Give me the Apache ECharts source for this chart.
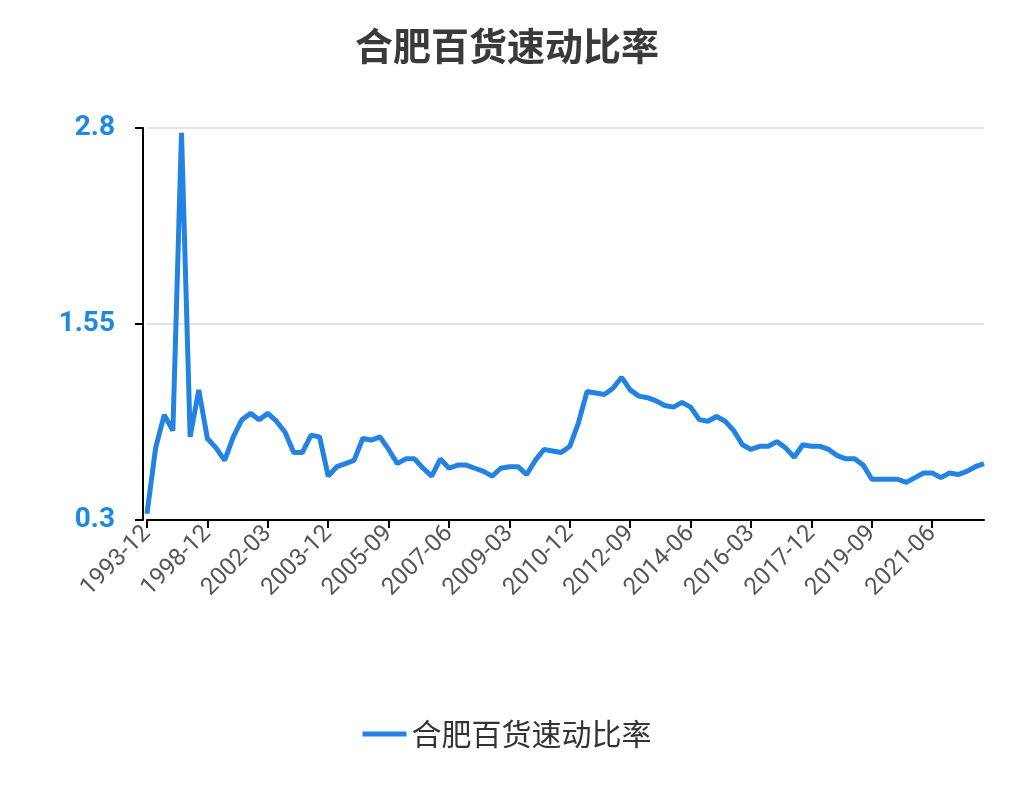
<!DOCTYPE html>
<html>
<head>
<meta charset="utf-8">
<script src="https://cdn.jsdelivr.net/npm/echarts@6/dist/echarts.min.js"></script>
<style>html,body{margin:0;padding:0;background:#fff}#chart{width:1014px;height:810px}</style>
</head>
<body>
<div id="chart"></div>
<script>
var seriesName = '合肥百货速动比率';
var earlyDates = ['1993-12', '1994-12', '1995-12', '1996-06', '1996-12', '1997-06', '1997-12',
  '1998-12', '1999-06', '1999-12', '2000-06', '2000-12', '2001-06', '2001-12'];
var quickRatio = [
  0.34, 0.76, 0.97, 0.87, 2.77, 0.83, 1.13, 0.82, 0.76, 0.68,
  0.83, 0.94, 0.98, 0.94, 0.98, 0.93, 0.86, 0.73, 0.73, 0.84,
  0.83, 0.58, 0.64, 0.66, 0.68, 0.82, 0.81, 0.83, 0.75, 0.66,
  0.69, 0.69, 0.63, 0.58, 0.69, 0.63, 0.65, 0.65, 0.63, 0.61,
  0.58, 0.63, 0.64, 0.64, 0.59, 0.68, 0.75, 0.74, 0.73, 0.77,
  0.92, 1.12, 1.11, 1.10, 1.14, 1.21, 1.13, 1.09, 1.08, 1.06,
  1.03, 1.02, 1.05, 1.02, 0.94, 0.93, 0.96, 0.93, 0.87, 0.78,
  0.75, 0.77, 0.77, 0.80, 0.76, 0.70, 0.78, 0.77, 0.77, 0.75,
  0.71, 0.69, 0.69, 0.65, 0.56, 0.56, 0.56, 0.56, 0.54, 0.57,
  0.60, 0.60, 0.57, 0.60, 0.59, 0.61, 0.64, 0.66
];
var yTicks = { min: 0.3, max: 2.8, interval: 1.25 };

// quarterly dates from 2002-03 to 2022-12
var categories = earlyDates.slice();
for (var y = 2002; y <= 2022; y++) {
  ['03', '06', '09', '12'].forEach(function (m) { categories.push(y + '-' + m); });
}

var myChart = echarts.init(document.getElementById('chart'));
myChart.setOption({
  animation: false,
  title: {
    text: seriesName, left: 'center', top: 22,
    textStyle: { fontSize: 38, fontWeight: 'bold', color: '#3a3a3a', fontFamily: 'Noto Sans CJK SC' }
  },
  legend: {
    bottom: 56, left: 'center', itemWidth: 44, itemHeight: 5, itemGap: 14,
    icon: 'rect',
    textStyle: { fontSize: 30, color: '#333', fontFamily: 'Noto Sans CJK SC' }
  },
  grid: { left: 147, right: 30, top: 128, bottom: 290 },
  xAxis: {
    type: 'category', data: categories, boundaryGap: false,
    axisLine: { lineStyle: { color: '#000', width: 2 } },
    axisTick: { alignWithLabel: true, interval: 6, length: 8, lineStyle: { color: '#000', width: 2 } },
    axisLabel: { interval: 6, rotate: 45, fontSize: 24, color: '#555', margin: 10, fontFamily: 'Roboto' }
  },
  yAxis: {
    type: 'value', min: yTicks.min, max: yTicks.max, interval: yTicks.interval, offset: 4,
    axisLine: { show: true, lineStyle: { color: '#000', width: 2 } },
    axisTick: { show: true, length: 8, lineStyle: { color: '#000', width: 2 } },
    axisLabel: { fontSize: 28, fontWeight: 'bold', color: '#1e88e5', margin: 28, fontFamily: 'Roboto' },
    splitLine: { lineStyle: { color: '#e3e3e3', width: 2 } }
  },
  series: [{
    name: seriesName, type: 'line', data: quickRatio,
    symbol: 'none', lineStyle: { color: '#2383e2', width: 5 }, itemStyle: { color: '#2383e2' }
  }]
});
</script>
</body>
</html>
